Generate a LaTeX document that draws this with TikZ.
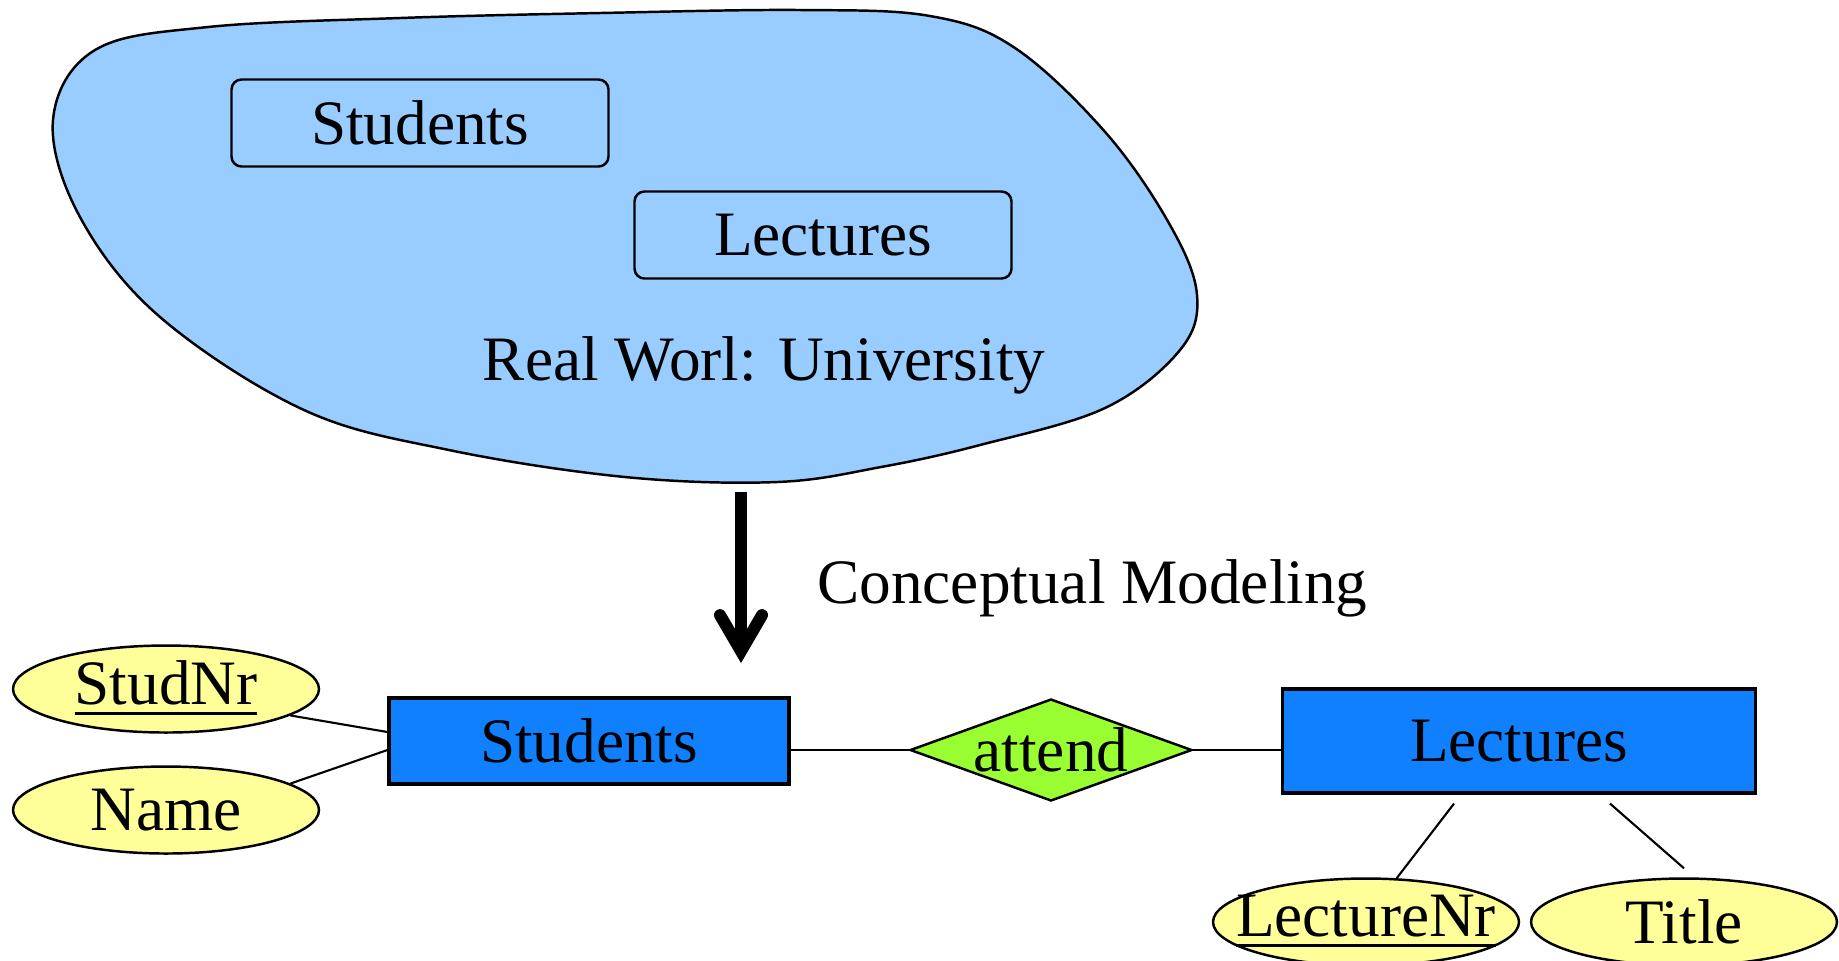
\documentclass[tikz,border=0pt]{standalone}
\usepackage{amsmath}
\usepackage{fontspec}
\setmainfont{Liberation Serif}
\usepackage{tikz}
\usetikzlibrary{arrows.meta,shapes.geometric}

\definecolor{worldblue}{RGB}{153,204,255}
\definecolor{entityblue}{RGB}{17,128,255}
\definecolor{relgreen}{RGB}{153,255,51}
\definecolor{attryellow}{RGB}{255,255,153}

\tikzset{
        every node/.style = {font = {\fontsize{18}{22}\selectfont}, black},
        world/.style = {draw, line width = 0.7pt, fill = worldblue},
        realbox/.style = {draw, line width = 0.7pt, rounded corners = 0.1cm, minimum width = 3.77cm, minimum height = 0.87cm},
        entity/.style = {draw, line width = 0.9pt, fill = entityblue, minimum height = 0.86cm},
        relation/.style = {draw, diamond, line width = 0.7pt, fill = relgreen, aspect = 2.76, inner sep = 0pt, minimum width = 2.82cm, minimum height = 1.02cm},
        attribute/.style = {draw, ellipse, line width = 0.7pt, fill = attryellow, inner xsep = -0.3cm, inner ysep = 0pt, minimum width = 3.06cm, minimum height = 0.87cm},
        link/.style = {line width = 0.6pt}
}

\begin{document}
\begin{tikzpicture}
        \useasboundingbox (0, 0) rectangle (18.39, -9.60);
        \draw[world] plot[smooth cycle, tension = 0.6] coordinates {(0.53, -1.20) (0.95, -0.50) (2.08, -0.27) (4.00, -0.18) (6.00, -0.13) (8.00, -0.10) (9.30, -0.16) (10.15, -0.48) (11.06, -1.33) (11.70, -2.25) (11.97, -2.95) (11.80, -3.50) (11.05, -4.08) (9.80, -4.45) (8.81, -4.67) (7.77, -4.82) (6.25, -4.77) (4.49, -4.50) (3.04, -4.10) (1.60, -3.17) (0.80, -2.17)};
        \node[realbox] (rwstud) at (4.20, -1.23) {Students};
        \node[realbox] (rwlect) at (8.23, -2.35) {Lectures};
        \node[anchor = base] (rwlabel) at (7.64, -3.80) {Real Worl: University};

        \coordinate (modtop) at (7.41, -4.92);
        \coordinate (modtip) at (7.41, -6.63);
        \draw[line width = 0.12cm, -{Straight Barb[length = 0.36cm, width = 0.42cm, line cap = round]}] (modtop) -- (modtip);
        \node[anchor = base west] (modlabel) at (8.05, -6.03) {Conceptual Modeling};

        \node[entity, minimum width = 4.00cm] (stu) at (5.89, -7.41) {Students};
        \node[relation] (att) at (10.51, -7.50) {attend};
        \node[entity, minimum width = 4.73cm, minimum height = 1.04cm] (lec) at (15.19, -7.41) {Lectures};
        \node[attribute] (sn) at (1.66, -6.89) {\underline{StudNr}};
        \node[attribute] (nm) at (1.66, -8.10) {Name};
        \node[attribute] (lnr) at (13.66, -9.22) {\underline{LectureNr}};
        \node[attribute] (ttl) at (16.84, -9.22) {Title};

        \draw[link] (sn.-12) -- ([yshift = 0.09cm]stu.west);
        \draw[link] (nm.12) -- ([yshift = -0.09cm]stu.west);
        \draw[link] (stu.east |- att) -- (att);
        \draw[link] (att) -- (att -| lec.west);
        \draw[link] ([xshift = -0.65cm, yshift = -0.09cm]lec.south) -- (lnr.55);
        \draw[link] ([xshift = 0.91cm, yshift = -0.09cm]lec.south) -- ([yshift = 0.09cm]ttl.north);
\end{tikzpicture}
\end{document}
